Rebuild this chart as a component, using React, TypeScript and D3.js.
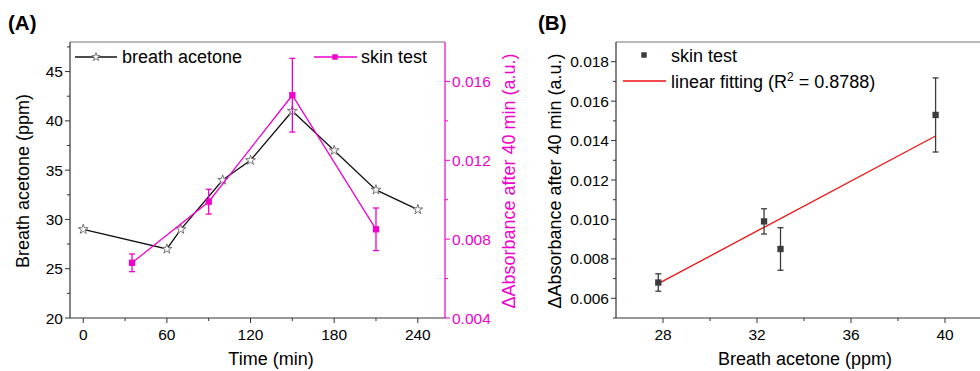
import React from 'react';
import * as d3 from 'd3';

// panel A: breath acetone over time
const breathTime = [0, 60, 70, 100, 120, 150, 180, 210, 240];
const breathPpm = [29, 27, 29, 34, 36, 41, 37, 33, 31];

// panel A: skin test over time (right axis)
const skinTime = [35, 90, 150, 210];
const skinAbs = [0.0068, 0.0099, 0.0153, 0.0085];
const skinErr = [0.00045, 0.00063, 0.00187, 0.00108];

// panel B: skin test vs breath acetone
const bAcetone = [27.8, 32.3, 33.0, 39.6];
const bAbs = [0.0068, 0.0099, 0.0085, 0.0153];
const bErr = [0.00044, 0.00064, 0.00108, 0.00188];

const timeTicks = [0, 60, 120, 180, 240];
const ppmTicks = [20, 25, 30, 35, 40, 45];
const absTicksA = [0.004, 0.008, 0.012, 0.016];
const absTicksB = [0.006, 0.008, 0.01, 0.012, 0.014, 0.016, 0.018];
const acetoneTicks = [28, 32, 36, 40];

const MAG = '#f000cc';
const GREY = '#3c3c3c';
const FONT = 'Liberation Sans, Arial, sans-serif';
const TICK_FS = 15.5;
const TITLE_FS = 18;
const LEG_FS = 18;

const starPath = d3.symbol(d3.symbolStar, 30)();
const sqPath = d3.symbol(d3.symbolSquare, 40)();

// weighted least squares (1/err^2) - same as the fitted line in the figure
function weightedFit(xs: number[], ys: number[], es: number[]) {
  const w = es.map(e => 1 / (e * e));
  const sw = d3.sum(w);
  const mx = d3.sum(xs.map((x, i) => x * w[i])) / sw;
  const my = d3.sum(ys.map((y, i) => y * w[i])) / sw;
  const sxy = d3.sum(xs.map((x, i) => w[i] * (x - mx) * (ys[i] - my)));
  const sxx = d3.sum(xs.map((x, i) => w[i] * (x - mx) * (x - mx)));
  const slope = sxy / sxx;
  return (x: number) => my + slope * (x - mx);
}

function ErrorBar({ x, y0, y1, color }: any) {
  return (
    <g stroke={color} strokeWidth={1.3}>
      <line x1={x} x2={x} y1={y0} y2={y1} />
      <line x1={x - 3} x2={x + 3} y1={y0} y2={y0} />
      <line x1={x - 3} x2={x + 3} y1={y1} y2={y1} />
    </g>
  );
}

function PanelA() {
  const L = 70, T = 42, R = 445, B = 318;
  const x = d3.scaleLinear().domain([-9.5, 259.5]).range([L, R]);
  const y = d3.scaleLinear().domain([20, 48]).range([B, T]);
  const y2 = d3.scaleLinear().domain([0.004, 0.018]).range([B, T]);

  const breathLine = d3.line<number>().x((d, i) => x(breathTime[i])).y(d => y(d))(breathPpm);
  const skinLine = d3.line<number>().x((d, i) => x(skinTime[i])).y(d => y2(d))(skinAbs);

  const minorX = d3.range(30, 240, 60);
  const minorY = d3.range(22.5, 48, 5);
  const minorY2 = [0.006, 0.01, 0.014];

  return (
    <g fontFamily={FONT}>
      <text x={8} y={30} fontSize={20.5} fontWeight="bold">(A)</text>
      {/* frame */}
      <line x1={L} x2={R} y1={T} y2={T} stroke="#777" strokeWidth={1.2} />
      <line x1={L} x2={L} y1={T} y2={B} stroke="#333" strokeWidth={1.2} />
      <line x1={L} x2={R} y1={B} y2={B} stroke="#333" strokeWidth={1.2} />
      <line x1={R} x2={R} y1={T} y2={B} stroke={MAG} strokeWidth={1.2} />

      {timeTicks.map(t => (
        <g key={t}>
          <line x1={x(t)} x2={x(t)} y1={B} y2={B + 5} stroke="#333" />
          <text x={x(t)} y={340} fontSize={TICK_FS} textAnchor="middle">{t}</text>
        </g>
      ))}
      {minorX.map(t => <line key={t} x1={x(t)} x2={x(t)} y1={B} y2={B + 3} stroke="#333" />)}
      {ppmTicks.map(t => (
        <g key={t}>
          <line x1={L - 5} x2={L} y1={y(t)} y2={y(t)} stroke="#333" />
          <text x={L - 7} y={y(t) + 5.5} fontSize={TICK_FS} textAnchor="end">{t}</text>
        </g>
      ))}
      {minorY.map(t => <line key={t} x1={L - 3} x2={L} y1={y(t)} y2={y(t)} stroke="#333" />)}
      {absTicksA.map(t => (
        <g key={t}>
          <line x1={R} x2={R + 5} y1={y2(t)} y2={y2(t)} stroke={MAG} />
          <text x={R + 7} y={y2(t) + 5.5} fontSize={TICK_FS} fill={MAG}>{t.toFixed(3)}</text>
        </g>
      ))}
      {minorY2.map(t => <line key={t} x1={R} x2={R + 3} y1={y2(t)} y2={y2(t)} stroke={MAG} />)}

      <text x={271} y={365} fontSize={TITLE_FS} textAnchor="middle">Time (min)</text>
      <text transform={`translate(29,${(T + B) / 2 + 1}) rotate(-90)`} fontSize={TITLE_FS} textAnchor="middle">Breath acetone (ppm)</text>
      <text transform={`translate(515,${(T + B) / 2 + 1}) rotate(-90)`} fontSize={TITLE_FS} textAnchor="middle" fill={MAG}>ΔAbsorbance after 40 min (a.u.)</text>

      <path d={breathLine ?? ''} fill="none" stroke="#111" strokeWidth={1.3} />
      {breathPpm.map((v, i) => (
        <path key={i} d={starPath ?? ''} transform={`translate(${x(breathTime[i])},${y(v)})`} fill="white" stroke="#666" strokeWidth={0.9} />
      ))}

      <path d={skinLine ?? ''} fill="none" stroke={MAG} strokeWidth={1.3} />
      {skinAbs.map((v, i) => (
        <ErrorBar key={i} x={x(skinTime[i])} y0={y2(v - skinErr[i])} y1={y2(v + skinErr[i])} color={MAG} />
      ))}
      {skinAbs.map((v, i) => (
        <path key={i} d={sqPath ?? ''} transform={`translate(${x(skinTime[i])},${y2(v)})`} fill={MAG} />
      ))}

      {/* legend */}
      <line x1={75} x2={117} y1={57} y2={57} stroke="#111" strokeWidth={1.3} />
      <path d={d3.symbol(d3.symbolStar, 22)() ?? ''} transform="translate(96,57)" fill="white" stroke="#666" strokeWidth={0.9} />
      <text x={122} y={63} fontSize={LEG_FS}>breath acetone</text>
      <line x1={314} x2={357} y1={57} y2={57} stroke={MAG} strokeWidth={1.3} />
      <path d={d3.symbol(d3.symbolSquare, 30)() ?? ''} transform="translate(335,57)" fill={MAG} />
      <text x={361} y={63} fontSize={LEG_FS}>skin test</text>
    </g>
  );
}

function PanelB() {
  const L = 616, T = 42, R = 992, B = 318;
  const x = d3.scaleLinear().domain([26, 42]).range([L, R]);
  const y = d3.scaleLinear().domain([0.005, 0.019]).range([B, T]);
  const fit = weightedFit(bAcetone, bAbs, bErr);
  const x0 = d3.min(bAcetone) as number;
  const x1 = d3.max(bAcetone) as number;

  const minorX = [30, 34, 38];
  const minorY = d3.range(0.005, 0.019, 0.002).map(v => +v.toFixed(3));

  return (
    <g fontFamily={FONT}>
      <text x={538} y={30} fontSize={20.5} fontWeight="bold">(B)</text>
      <line x1={L} x2={R} y1={T} y2={T} stroke="#777" strokeWidth={1.2} />
      <line x1={L} x2={L} y1={T} y2={B} stroke="#333" strokeWidth={1.2} />
      <line x1={L} x2={R} y1={B} y2={B} stroke="#333" strokeWidth={1.2} />

      {acetoneTicks.map(t => (
        <g key={t}>
          <line x1={x(t)} x2={x(t)} y1={B} y2={B + 5} stroke="#333" />
          <text x={x(t)} y={340} fontSize={TICK_FS} textAnchor="middle">{t}</text>
        </g>
      ))}
      {minorX.map(t => <line key={t} x1={x(t)} x2={x(t)} y1={B} y2={B + 3} stroke="#333" />)}
      {absTicksB.map(t => (
        <g key={t}>
          <line x1={L - 5} x2={L} y1={y(t)} y2={y(t)} stroke="#333" />
          <text x={L - 7} y={y(t) + 5.5} fontSize={TICK_FS} textAnchor="end">{t.toFixed(3)}</text>
        </g>
      ))}
      {minorY.map(t => <line key={t} x1={L - 3} x2={L} y1={y(t)} y2={y(t)} stroke="#333" />)}

      <text x={805} y={365} fontSize={TITLE_FS} textAnchor="middle">Breath acetone (ppm)</text>
      <text transform={`translate(561,${(T + B) / 2 + 1}) rotate(-90)`} fontSize={TITLE_FS} textAnchor="middle">ΔAbsorbance after 40 min (a.u.)</text>

      <line x1={x(x0)} x2={x(x1)} y1={y(fit(x0))} y2={y(fit(x1))} stroke="#ee1111" strokeWidth={1.3} />
      {bAbs.map((v, i) => (
        <ErrorBar key={i} x={x(bAcetone[i])} y0={y(v - bErr[i])} y1={y(v + bErr[i])} color={GREY} />
      ))}
      {bAbs.map((v, i) => (
        <path key={i} d={sqPath ?? ''} transform={`translate(${x(bAcetone[i])},${y(v)})`} fill={GREY} />
      ))}

      <path d={d3.symbol(d3.symbolSquare, 30)() ?? ''} transform="translate(644,55)" fill={GREY} />
      <text x={671} y={62} fontSize={LEG_FS}>skin test</text>
      <line x1={623} x2={666} y1={81} y2={81} stroke="#ee1111" strokeWidth={1.3} />
      <text x={671} y={88} fontSize={LEG_FS}>
        linear fitting (R<tspan fontSize={12} dy={-7}>2</tspan><tspan dy={7}> = 0.8788)</tspan>
      </text>
    </g>
  );
}

export default function App() {
  return (
    <svg width={980} height={371} style={{ position: 'absolute', left: 0, top: 0, background: 'white' }}>
      <rect width={980} height={371} fill="white" />
      <PanelA />
      <PanelB />
    </svg>
  );
}
